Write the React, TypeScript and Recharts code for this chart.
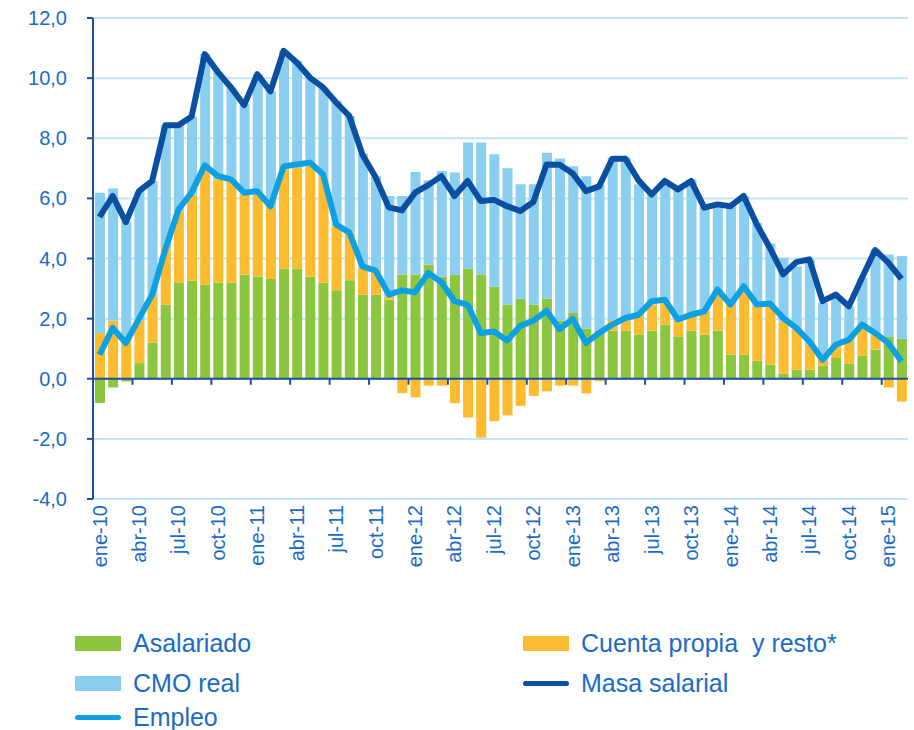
import React from 'react';
import { ComposedChart, Bar, Line, XAxis, YAxis, CartesianGrid, ReferenceLine, Legend } from 'recharts';

const months = [
  'ene-10','feb-10','mar-10','abr-10','may-10','jun-10','jul-10','ago-10','sep-10','oct-10','nov-10','dic-10',
  'ene-11','feb-11','mar-11','abr-11','may-11','jun-11','jul-11','ago-11','sep-11','oct-11','nov-11','dic-11',
  'ene-12','feb-12','mar-12','abr-12','may-12','jun-12','jul-12','ago-12','sep-12','oct-12','nov-12','dic-12',
  'ene-13','feb-13','mar-13','abr-13','may-13','jun-13','jul-13','ago-13','sep-13','oct-13','nov-13','dic-13',
  'ene-14','feb-14','mar-14','abr-14','may-14','jun-14','jul-14','ago-14','sep-14','oct-14','nov-14','dic-14',
  'ene-15','feb-15'
];

const asalariado = [
  -0.81,-0.29,-0.09,0.52,1.21,2.47,3.19,3.27,3.13,3.19,3.19,3.47,
  3.39,3.32,3.66,3.66,3.39,3.19,2.94,3.28,2.8,2.8,2.63,3.47,
  3.47,3.8,3.39,3.47,3.67,3.47,3.07,2.47,2.67,2.47,2.67,1.94,
  2.19,1.67,1.6,1.6,1.6,1.47,1.6,1.8,1.41,1.6,1.47,1.6,
  0.8,0.8,0.6,0.47,0.17,0.3,0.3,0.43,0.69,0.5,0.77,0.97,
  1.41,1.33
];

const cuentaPropia = [
  1.52,1.93,1.28,1.41,1.59,1.94,2.39,2.86,3.95,3.44,3.39,2.66,
  2.85,2.42,3.31,3.36,3.74,3.55,2.14,1.58,0.89,0.83,0.11,-0.48,
  -0.62,-0.23,-0.23,-0.81,-1.29,-1.96,-1.41,-1.22,-0.9,-0.57,-0.42,-0.23,
  -0.23,-0.49,-0.08,0.35,0.33,0.72,0.87,0.78,0.56,0.48,0.77,1.26,
  1.72,2.22,1.81,1.94,1.74,1.33,0.83,0.31,0.39,0.8,0.97,0.5,
  -0.29,-0.76
];

const cmoReal = [
  4.67,4.4,3.96,4.31,3.78,4.02,2.85,2.59,3.72,3.56,3.11,3.0,
  3.89,3.82,3.94,3.56,2.89,2.95,4.16,3.88,3.81,3.11,3.34,2.61,
  3.41,2.8,3.52,3.39,4.19,4.39,4.4,4.53,3.8,4.0,4.85,5.39,
  4.88,5.07,4.85,5.41,5.43,4.28,3.72,4.0,4.39,4.55,3.5,2.88,
  3.22,3.06,2.78,2.09,2.11,2.11,2.84,1.78,1.7,1.1,1.62,2.83,
  2.72,2.75
];

const masaSalarial = [
  5.38,6.08,5.21,6.24,6.58,8.43,8.43,8.72,10.8,10.2,9.69,9.1,
  10.13,9.56,10.91,10.52,10.02,9.69,9.19,8.74,7.45,6.7,5.7,5.6,
  6.19,6.44,6.74,6.08,6.58,5.91,5.95,5.74,5.58,5.88,7.13,7.12,
  6.83,6.24,6.4,7.32,7.32,6.6,6.13,6.58,6.3,6.58,5.69,5.8,
  5.74,6.08,5.13,4.35,3.47,3.88,3.97,2.58,2.8,2.41,3.36,4.28,
  3.86,3.32
];

const empleo = [
  0.8,1.69,1.19,2.0,2.8,4.3,5.63,6.19,7.1,6.74,6.63,6.19,
  6.24,5.74,7.06,7.13,7.19,6.8,5.13,4.86,3.74,3.6,2.8,2.94,
  2.88,3.52,3.22,2.58,2.46,1.52,1.57,1.27,1.76,1.93,2.26,1.65,
  1.99,1.19,1.52,1.8,2.02,2.13,2.58,2.63,1.97,2.13,2.24,2.97,
  2.47,3.08,2.47,2.5,2.02,1.69,1.24,0.63,1.13,1.3,1.8,1.52,
  1.19,0.58
];

const yTicks = [-4, -2, 0, 2, 4, 6, 8, 10, 12];

const rows = months.map((m, i) => ({
  mes: m,
  i: i + 0.5,
  asalariado: asalariado[i],
  cuenta: cuentaPropia[i],
  cmo: cmoReal[i],
  masa: masaSalarial[i],
  empleo: empleo[i],
}));

const C_GREEN = '#8CC63F';
const C_ORANGE = '#FDBB2F';
const C_LBLUE = '#8ACFF0';
const C_DBLUE = '#0B4FA3';
const C_EMP = '#0FA0E2';
const C_TEXT = '#1A6BC6';
const C_AXIS = '#1F4F9B';
const C_GRID = '#C2E6F7';
const FONT = '"Liberation Sans", Arial, sans-serif';

const XTick = (props: any) => {
  const { x, y, payload } = props;
  return (
    <text
      x={x}
      y={y}
      transform={`rotate(-90 ${x} ${y})`}
      textAnchor="end"
      dominantBaseline="central"
      fill={C_TEXT}
      fontSize={20}
      fontFamily={FONT}
    >
      {payload.value}
    </text>
  );
};

const legendItems = [
  { label: 'Asalariado', color: C_GREEN, kind: 'rect', left: 75, top: 59 },
  { label: 'Cuenta propia  y resto*', color: C_ORANGE, kind: 'rect', left: 523, top: 59 },
  { label: 'CMO real', color: C_LBLUE, kind: 'rect', left: 75, top: 99 },
  { label: 'Masa salarial', color: C_DBLUE, kind: 'line', left: 523, top: 99 },
  { label: 'Empleo', color: C_EMP, kind: 'line', left: 75, top: 133 },
];

const renderLegend = () => (
  <div style={{ position: 'relative', width: 914, height: 146, fontFamily: FONT }}>
    {legendItems.map((it) => (
      <div key={it.label} style={{ position: 'absolute', left: it.left, top: it.top - 15, height: 30, display: 'flex', alignItems: 'center' }}>
        <div
          style={{
            width: 46,
            height: it.kind === 'rect' ? 15 : 5,
            background: it.color,
            borderRadius: it.kind === 'line' ? 3 : 0,
          }}
        />
        <span style={{ marginLeft: 12, fontSize: 25, color: C_TEXT, whiteSpace: 'pre' }}>{it.label}</span>
      </div>
    ))}
  </div>
);

const zeroTicks: number[] = [];
for (let k = 3; k <= 60; k += 3) zeroTicks.push(k);

export default function App() {
  return (
    <div style={{ position: 'absolute', left: 0, top: 0, width: 914, height: 730, background: '#fff' }}>
      <ComposedChart
        width={914}
        height={730}
        data={rows}
        margin={{ top: 18, right: 6, left: 0, bottom: 0 }}
        stackOffset="sign"
        barSize={10}
      >
        <CartesianGrid horizontal vertical={false} stroke={C_GRID} strokeWidth={2} />
        <XAxis
          dataKey="mes"
          interval={2}
          axisLine={false}
          tickLine={false}
          tickSize={0}
          tickMargin={6}
          height={85}
          tick={<XTick />}
        />
        <XAxis xAxisId="n" dataKey="i" type="number" domain={[0, 62]} allowDataOverflow hide />
        <YAxis
          domain={[-4, 12]}
          ticks={yTicks}
          interval={0}
          width={93}
          axisLine={{ stroke: C_AXIS, strokeWidth: 2 }}
          tickLine={{ stroke: C_AXIS, strokeWidth: 2 }}
          tickSize={6}
          tickMargin={20}
          tick={{ fill: C_TEXT, fontSize: 20, fontFamily: FONT }}
          tickFormatter={(v: number) => v.toFixed(1).replace('.', ',')}
        />
        <Legend verticalAlign="bottom" content={renderLegend} />
        <Bar dataKey="asalariado" stackId="s" fill={C_GREEN} isAnimationActive={false} />
        <Bar dataKey="cuenta" stackId="s" fill={C_ORANGE} isAnimationActive={false} />
        <Bar dataKey="cmo" stackId="s" fill={C_LBLUE} isAnimationActive={false} />
        <ReferenceLine y={0} stroke={C_AXIS} strokeWidth={2} />
        {zeroTicks.map((k) => (
          <ReferenceLine key={k} xAxisId="n" segment={[{ x: k, y: 0 }, { x: k, y: -0.2 }]} stroke={C_AXIS} strokeWidth={2} />
        ))}
        <Line dataKey="empleo" stroke={C_EMP} strokeWidth={6} dot={false} strokeLinejoin="round" isAnimationActive={false} />
        <Line dataKey="masa" stroke={C_DBLUE} strokeWidth={6} dot={false} strokeLinejoin="round" isAnimationActive={false} />
      </ComposedChart>
    </div>
  );
}
